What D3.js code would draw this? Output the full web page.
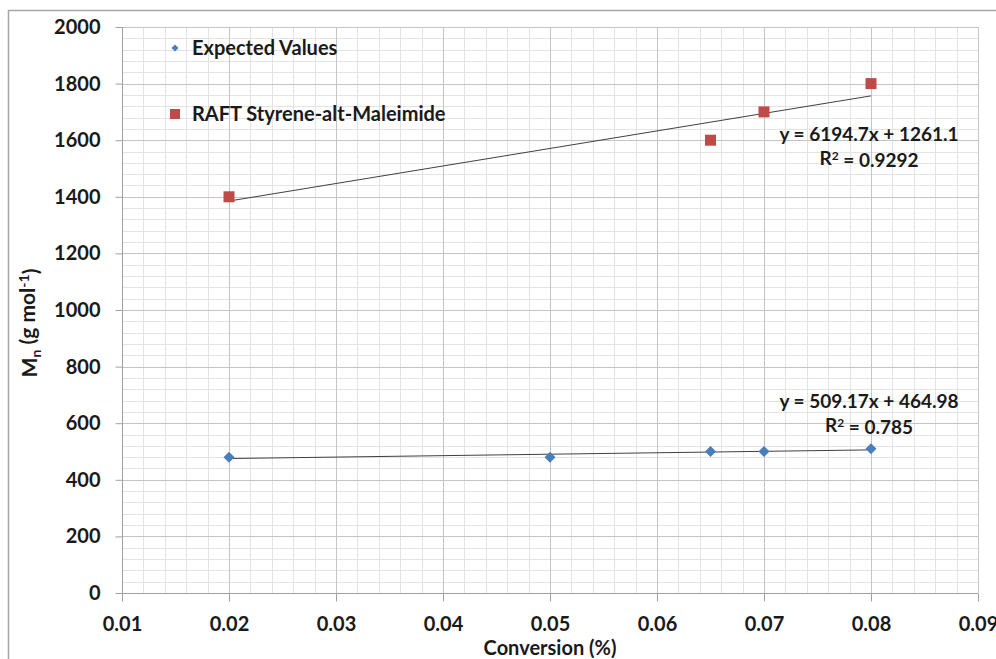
<!DOCTYPE html>
<html><head><meta charset="utf-8">
<script src="https://cdn.jsdelivr.net/npm/d3@7"></script>
<style>
body{margin:0;background:#fff;}
svg{display:block;}
text{font-family:Lato, "Open Sans", sans-serif;font-weight:bold;fill:#1a1a1a;}
</style></head>
<body>
<svg id="chart" width="996" height="659"></svg>
<script>
const xTicks = [0.01,0.02,0.03,0.04,0.05,0.06,0.07,0.08,0.09];
const yTicks = [0,200,400,600,800,1000,1200,1400,1600,1800,2000];
const expectedX = [0.02,0.05,0.065,0.07,0.08];
const expectedY = [480,480,500,500,510];
const raftX = [0.02,0.065,0.07,0.08];
const raftY = [1400,1600,1700,1800];
const seriesNames = ["Expected Values","RAFT Styrene-alt-Maleimide"];
const expectedFit = {slope:509.17, intercept:464.98, r2:"0.785", eq:"y = 509.17x + 464.98"};
const raftFit = {slope:6194.7, intercept:1261.1, r2:"0.9292", eq:"y = 6194.7x + 1261.1"};

const svg = d3.select("#chart");
const L=122, R=978, T=27, B=593;
const x = d3.scaleLinear().domain([0.01,0.09]).range([L,R]);
const y = d3.scaleLinear().domain([0,2000]).range([B,T]);

// outer frame (left + top visible)
svg.append("path").attr("d","M8.5,659 L8.5,10.5 L996,10.5").attr("fill","none").attr("stroke","#a6a6a6").attr("stroke-width",1.5);

// minor grid
const g = svg.append("g");
d3.range(0.01,0.0901,0.002).forEach(v=>{
  g.append("line").attr("x1",Math.round(x(v))+0.5).attr("x2",Math.round(x(v))+0.5).attr("y1",T).attr("y2",B)
   .attr("stroke","#e3e3e3").attr("stroke-width",1);
});
d3.range(0,2001,40).forEach(v=>{
  g.append("line").attr("x1",L).attr("x2",R).attr("y1",Math.round(y(v))+0.5).attr("y2",Math.round(y(v))+0.5)
   .attr("stroke","#e3e3e3").attr("stroke-width",1);
});
// major grid
xTicks.forEach(v=>{
  g.append("line").attr("x1",Math.round(x(v))+0.5).attr("x2",Math.round(x(v))+0.5).attr("y1",T).attr("y2",B)
   .attr("stroke","#c4c4c4").attr("stroke-width",1);
});
yTicks.forEach(v=>{
  g.append("line").attr("x1",L).attr("x2",R).attr("y1",Math.round(y(v))+0.5).attr("y2",Math.round(y(v))+0.5)
   .attr("stroke","#c4c4c4").attr("stroke-width",1);
});

// axes
const xAxis = d3.axisBottom(x).tickValues(xTicks).tickSize(8).tickPadding(15).tickFormat(d3.format(".2f"));
const yAxis = d3.axisLeft(y).tickValues(yTicks).tickSize(7).tickPadding(15).tickFormat(d=>d);
const gx = svg.append("g").attr("transform",`translate(0,${Math.round(B)+0.5})`).call(xAxis);
const gy = svg.append("g").attr("transform",`translate(${L+0.5},0)`).call(yAxis);
[gx,gy].forEach(a=>{
  a.select(".domain").attr("stroke","#a0a0a0");
  a.selectAll(".tick line").attr("stroke","#a0a0a0");
  a.selectAll(".tick text").style("font-size","20px").attr("fill","#1a1a1a").style("font-family","Lato").style("font-weight","bold");
});
gx.select(".domain").attr("d",`M${L},0H${R}`);
gy.select(".domain").attr("d",`M0,${B}V${T}`);

// trendlines
function trend(xs,fit){
  const x0=d3.min(xs), x1=d3.max(xs);
  svg.append("line").attr("x1",x(x0)).attr("y1",y(fit.slope*x0+fit.intercept))
    .attr("x2",x(x1)).attr("y2",y(fit.slope*x1+fit.intercept))
    .attr("stroke","#404040").attr("stroke-width",1);
}
trend(expectedX,expectedFit);
trend(raftX,raftFit);

// markers
const diamondPath = s => `M0,${-s}L${s},0L0,${s}L${-s},0Z`;
expectedX.forEach((v,i)=>{
  svg.append("path").attr("d",diamondPath(5.5)).attr("transform",`translate(${x(v)},${y(expectedY[i])})`)
    .attr("fill","#4a7ebb");
});
raftX.forEach((v,i)=>{
  svg.append("rect").attr("x",x(v)-5.5).attr("y",y(raftY[i])-5.5).attr("width",11).attr("height",11)
    .attr("fill","#be4b48");
});

// legend
svg.append("path").attr("d",diamondPath(3.5)).attr("transform","translate(175,48)").attr("fill","#4a7ebb");
svg.append("text").attr("x",192).attr("y",48).attr("dy","0.35em").style("font-size","20px").text(seriesNames[0]);
svg.append("rect").attr("x",170).attr("y",109).attr("width",10).attr("height",10).attr("fill","#be4b48");
svg.append("text").attr("x",192).attr("y",114).attr("dy","0.35em").style("font-size","20px").text(seriesNames[1]);

// equations
function eqLabel(fit,cx,cy){
  svg.append("text").attr("x",cx).attr("y",cy).attr("dy","0.35em").attr("text-anchor","middle").style("font-size","19px").text(fit.eq);
  const t = svg.append("text").attr("x",cx).attr("y",cy+24).attr("dy","0.35em").attr("text-anchor","middle").style("font-size","19px");
  t.append("tspan").text("R");
  t.append("tspan").attr("dy","-0.4em").style("font-size","12px").text("2");
  t.append("tspan").attr("dy","0.4em").text(" = "+fit.r2);
}
eqLabel(raftFit,869,134);
eqLabel(expectedFit,869,401);

// axis titles
svg.append("text").attr("x",550).attr("y",655).attr("text-anchor","middle").style("font-size","20px").text("Conversion (%)");
const yt = svg.append("text").attr("transform","translate(37,323) rotate(-90)").attr("text-anchor","middle").style("font-size","21px");
yt.append("tspan").text("M");
yt.append("tspan").attr("dy","0.3em").style("font-size","14px").text("n");
yt.append("tspan").attr("dy","-0.3em").text(" (g mol");
yt.append("tspan").attr("dy","-0.45em").style("font-size","14px").text("-1");
yt.append("tspan").attr("dy","0.45em").text(")");
</script>
</body></html>
